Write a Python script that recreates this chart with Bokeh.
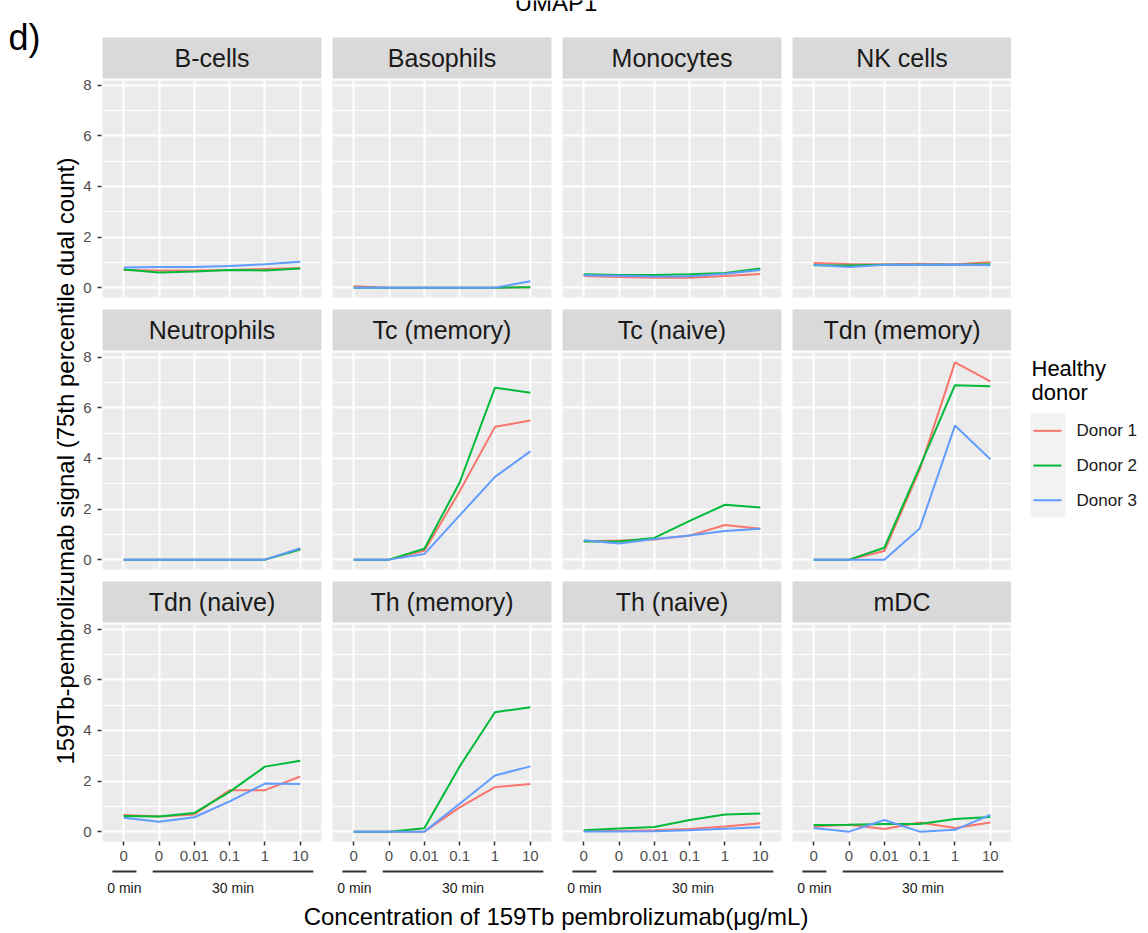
from bokeh.plotting import figure
from bokeh.layouts import row, column
from bokeh.models import Range1d, FixedTicker, Grid, LinearAxis, Label
from bokeh.core.properties import value
from bokeh.embed import file_html
from bokeh.resources import INLINE

# ---------------------------------------------------------------- data
cells = ["B-cells", "Basophils", "Monocytes", "NK cells",
         "Neutrophils", "Tc (memory)", "Tc (naive)", "Tdn (memory)",
         "Tdn (naive)", "Th (memory)", "Th (naive)", "mDC"]
donors = ["Donor 1", "Donor 2", "Donor 3"]
donor_colors = ["#F8766D", "#00BA38", "#619CFF"]

conc_pos = [1, 2, 3, 4, 5, 6]
conc_labels = ["0", "0", "0.01", "0.1", "1", "10"]
time_groups = ["0 min", "30 min"]

y_ticks = [0, 2, 4, 6, 8]
y_minor = [1, 3, 5, 7]

signal_donor1 = {
    "B-cells":      [0.70, 0.68, 0.68, 0.70, 0.74, 0.78],
    "Basophils":    [0.05, 0.00, 0.00, 0.00, 0.00, 0.02],
    "Monocytes":    [0.46, 0.42, 0.39, 0.39, 0.46, 0.54],
    "NK cells":     [0.97, 0.93, 0.92, 0.94, 0.92, 1.00],
    "Neutrophils":  [0.00, 0.00, 0.00, 0.00, 0.00, 0.42],
    "Tc (memory)":  [0.00, 0.00, 0.35, 2.70, 5.25, 5.50],
    "Tc (naive)":   [0.73, 0.76, 0.80, 0.95, 1.37, 1.22],
    "Tdn (memory)": [0.00, 0.00, 0.34, 3.55, 7.80, 7.05],
    "Tdn (naive)":  [0.66, 0.60, 0.68, 1.64, 1.64, 2.18],
    "Th (memory)":  [0.00, 0.00, 0.00, 0.96, 1.76, 1.88],
    "Th (naive)":   [0.03, 0.03, 0.05, 0.10, 0.20, 0.33],
    "mDC":          [0.20, 0.27, 0.10, 0.36, 0.14, 0.36],
}
signal_donor2 = {
    "B-cells":      [0.72, 0.60, 0.64, 0.70, 0.68, 0.76],
    "Basophils":    [0.00, 0.00, 0.00, 0.00, 0.00, 0.02],
    "Monocytes":    [0.53, 0.50, 0.50, 0.53, 0.58, 0.76],
    "NK cells":     [0.89, 0.88, 0.90, 0.90, 0.90, 0.92],
    "Neutrophils":  [0.00, 0.00, 0.00, 0.00, 0.00, 0.40],
    "Tc (memory)":  [0.00, 0.00, 0.43, 3.05, 6.80, 6.60],
    "Tc (naive)":   [0.72, 0.72, 0.86, 1.53, 2.17, 2.06],
    "Tdn (memory)": [0.00, 0.00, 0.47, 3.66, 6.90, 6.86],
    "Tdn (naive)":  [0.62, 0.60, 0.74, 1.57, 2.57, 2.80],
    "Th (memory)":  [0.00, 0.00, 0.13, 2.58, 4.72, 4.92],
    "Th (naive)":   [0.05, 0.12, 0.18, 0.46, 0.68, 0.72],
    "mDC":          [0.26, 0.27, 0.30, 0.30, 0.50, 0.58],
}
signal_donor3 = {
    "B-cells":      [0.80, 0.82, 0.82, 0.86, 0.92, 1.02],
    "Basophils":    [0.00, 0.00, 0.00, 0.00, 0.00, 0.25],
    "Monocytes":    [0.49, 0.47, 0.44, 0.45, 0.55, 0.70],
    "NK cells":     [0.90, 0.82, 0.90, 0.90, 0.91, 0.89],
    "Neutrophils":  [0.00, 0.00, 0.00, 0.00, 0.00, 0.45],
    "Tc (memory)":  [0.00, 0.00, 0.22, 1.75, 3.27, 4.28],
    "Tc (naive)":   [0.77, 0.64, 0.82, 0.95, 1.13, 1.22],
    "Tdn (memory)": [0.00, 0.00, 0.00, 1.23, 5.30, 3.97],
    "Tdn (naive)":  [0.55, 0.39, 0.57, 1.20, 1.90, 1.88],
    "Th (memory)":  [0.00, 0.00, 0.00, 1.10, 2.22, 2.58],
    "Th (naive)":   [0.01, 0.01, 0.02, 0.05, 0.11, 0.17],
    "mDC":          [0.14, 0.00, 0.46, 0.00, 0.07, 0.66],
}
signals = [signal_donor1, signal_donor2, signal_donor3]

# ---------------------------------------------------------------- layout / style
FONT = "Liberation Sans"
PANEL_BG = "#EBEBEB"
STRIP_BG = "#D9D9D9"
W, H = 1148, 933
LEFT_W, RIGHT_W = 80, 138
AXIS_W = 21                 # y tick labels of the first column
PANEL_W, PANEL_H = 219, 217
STRIP_H, STRIP_GAP = 41, 2
COL_GAP, ROW_GAP = 11, 12
TOP_H = 37
XAXIS_H, BRACKET_H = 28, 30
NCOL, NROW = 4, 3
FACET_H = STRIP_H + STRIP_GAP + PANEL_H
MID_W = AXIS_W + NCOL * PANEL_W + (NCOL - 1) * COL_GAP
TITLE_H = H - TOP_H - NROW * FACET_H - (NROW - 1) * ROW_GAP - XAXIS_H - BRACKET_H

# bracket extents (in x units) under the tick labels
bracket_spans = [(0.68, 1.36), (1.82, 6.37)]

# shared scales (5% expansion on y, 0.6 on the discrete x)
all_vals = [v for s in signals for c in cells for v in s[c]]
y_lo, y_hi = min(all_vals), max(all_vals)
y_pad = 0.05 * (y_hi - y_lo)
x_range = Range1d(conc_pos[0] - 0.6, conc_pos[-1] + 0.6)
y_range = Range1d(y_lo - y_pad, y_hi + y_pad)
units_per_px = (y_range.end - y_range.start) / PANEL_H


def base_fig(**kw):
    opts = dict(x_axis_location=None, y_axis_location=None,
                toolbar_location=None, output_backend="svg", title=None,
                min_border=0, outline_line_color=None,
                background_fill_color="white", border_fill_color="white")
    opts.update(kw)
    p = figure(**opts)
    p.center = []          # no default grids
    return p


def blank_fig(width, height):
    return base_fig(width=width, height=height,
                    x_range=Range1d(0, width), y_range=Range1d(0, height))


def strip_fig(name, last_col):
    p = base_fig(frame_width=PANEL_W, frame_height=STRIP_H,
                 x_range=Range1d(0, 1), y_range=Range1d(0, 1),
                 min_border_bottom=STRIP_GAP,
                 min_border_right=0 if last_col else COL_GAP,
                 background_fill_color=STRIP_BG)
    p.text(x=[0.5], y=[0.5], text=[name], text_align="center",
           text_baseline="middle", text_font=value(FONT),
           text_font_size="25px", text_color="#1A1A1A")
    return p


tick_style = dict(axis_line_color=None, major_tick_in=0, major_tick_out=4,
                  minor_tick_in=0, minor_tick_out=0,
                  major_tick_line_color="#333333", major_tick_line_width=1.5,
                  major_label_text_font=FONT, major_label_text_font_size="15px",
                  major_label_text_color="#4D4D4D")


def panel_fig(name, last_col, bottom_row):
    p = base_fig(frame_width=PANEL_W, frame_height=PANEL_H,
                 x_range=x_range, y_range=y_range,
                 min_border_right=0 if last_col else COL_GAP,
                 min_border_bottom=XAXIS_H if bottom_row else ROW_GAP,
                 background_fill_color=PANEL_BG)
    p.add_layout(Grid(dimension=0, ticker=FixedTicker(ticks=conc_pos),
                      grid_line_color="white", grid_line_width=2))
    p.add_layout(Grid(dimension=1, ticker=FixedTicker(ticks=y_ticks, minor_ticks=y_minor),
                      grid_line_color="white", grid_line_width=2,
                      minor_grid_line_color="white", minor_grid_line_width=1))
    if bottom_row:
        p.add_layout(LinearAxis(ticker=FixedTicker(ticks=conc_pos),
                                major_label_overrides={k: lab for k, lab in zip(conc_pos, conc_labels)},
                                major_label_standoff=5, **tick_style), "below")
    for s, col in zip(signals, donor_colors):
        p.line(x=conc_pos, y=s[name], line_color=col, line_width=2)
    return p


def yaxis_fig(bottom_row):
    # narrow figure holding the y axis; its range is stretched upward so the
    # ticks line up with the panel while the labels have room above it
    extra = (STRIP_H + STRIP_GAP) * units_per_px
    p = base_fig(frame_width=1, frame_height=FACET_H,
                 x_range=Range1d(0, 1),
                 y_range=Range1d(y_range.start, y_range.end + extra),
                 min_border_left=AXIS_W - 1,
                 min_border_bottom=XAXIS_H + BRACKET_H if bottom_row else ROW_GAP)
    p.add_layout(LinearAxis(ticker=FixedTicker(ticks=y_ticks),
                            major_label_standoff=6, **tick_style), "left")
    return p


def bracket_fig(last_col):
    p = base_fig(frame_width=PANEL_W, frame_height=BRACKET_H,
                 x_range=x_range, y_range=Range1d(0, BRACKET_H),
                 min_border_right=0 if last_col else COL_GAP)
    starts = [a for a, b in bracket_spans]
    ends = [b for a, b in bracket_spans]
    mids = [(a + b) / 2 for a, b in bracket_spans]
    p.segment(x0=starts, x1=ends, y0=[BRACKET_H - 2] * 2, y1=[BRACKET_H - 2] * 2,
              line_color="#333333", line_width=2)
    p.text(x=mids, y=[BRACKET_H - 18] * 2, text=time_groups, text_align="center",
           text_baseline="middle", text_font=value(FONT), text_font_size="14px",
           text_color="#1A1A1A")
    return p


# ---------------------------------------------------------------- facets
rows = []
for r in range(NROW):
    bottom = r == NROW - 1
    cols = [yaxis_fig(bottom)]
    for c in range(NCOL):
        name = cells[r * NCOL + c]
        last = c == NCOL - 1
        kids = [strip_fig(name, last), panel_fig(name, last, bottom)]
        if bottom:
            kids.append(bracket_fig(last))
        cols.append(column(*kids))
    rows.append(row(*cols))

facet_cx = AXIS_W + (MID_W - AXIS_W) / 2

# caption above the facets, partly outside the page
top = blank_fig(MID_W, TOP_H)
top.add_layout(Label(x=facet_cx, y=TOP_H - 2, text="UMAP1",
                     text_align="center", text_baseline="middle",
                     text_font=FONT, text_font_size="24px", text_color="black"))

# x-axis title
xtitle = blank_fig(MID_W, TITLE_H)
xtitle.add_layout(Label(x=facet_cx, y=TITLE_H / 2,
                        text="Concentration of 159Tb pembrolizumab(\u03bcg/mL)",
                        text_align="center", text_baseline="middle",
                        text_font=FONT, text_font_size="24px", text_color="black"))

middle = column(top, *rows, xtitle)

# left margin: panel tag and y-axis title
left = blank_fig(LEFT_W, H)
left.add_layout(Label(x=8, y=H - 37, text="d)", text_align="left",
                      text_baseline="middle", text_font=FONT,
                      text_font_size="36px", text_color="black"))
facet_mid = TOP_H + (NROW * FACET_H + (NROW - 1) * ROW_GAP + STRIP_H + STRIP_GAP) / 2
left.add_layout(Label(x=65, y=H - facet_mid,
                      text="159Tb-pembrolizumab signal (75th percentile dual count)",
                      angle=1.5707963, text_align="center", text_baseline="middle",
                      text_font=FONT, text_font_size="24px", text_color="black"))

# right margin: legend
legend = blank_fig(RIGHT_W, H)
legend.add_layout(Label(x=20, y=H - 368, text="Healthy", text_baseline="middle",
                        text_font=FONT, text_font_size="22px", text_color="black"))
legend.add_layout(Label(x=20, y=H - 392, text="donor", text_baseline="middle",
                        text_font=FONT, text_font_size="22px", text_color="black"))
key_top, key_h = 413, 34.7
key_y = [H - (key_top + key_h * (i + 0.5)) for i in range(len(donors))]
legend.quad(left=[19], right=[54], top=[H - key_top], bottom=[H - key_top - key_h * len(donors)],
            fill_color="#F2F2F2", line_color=None)
legend.segment(x0=[22] * 3, x1=[50] * 3, y0=key_y, y1=key_y,
               line_color=donor_colors, line_width=2)
legend.text(x=[65] * 3, y=key_y, text=donors, text_baseline="middle",
            text_font=value(FONT), text_font_size="17px", text_color="#1A1A1A")

page = row(left, middle, legend)
open("out.html", "w").write(file_html(page, INLINE))
